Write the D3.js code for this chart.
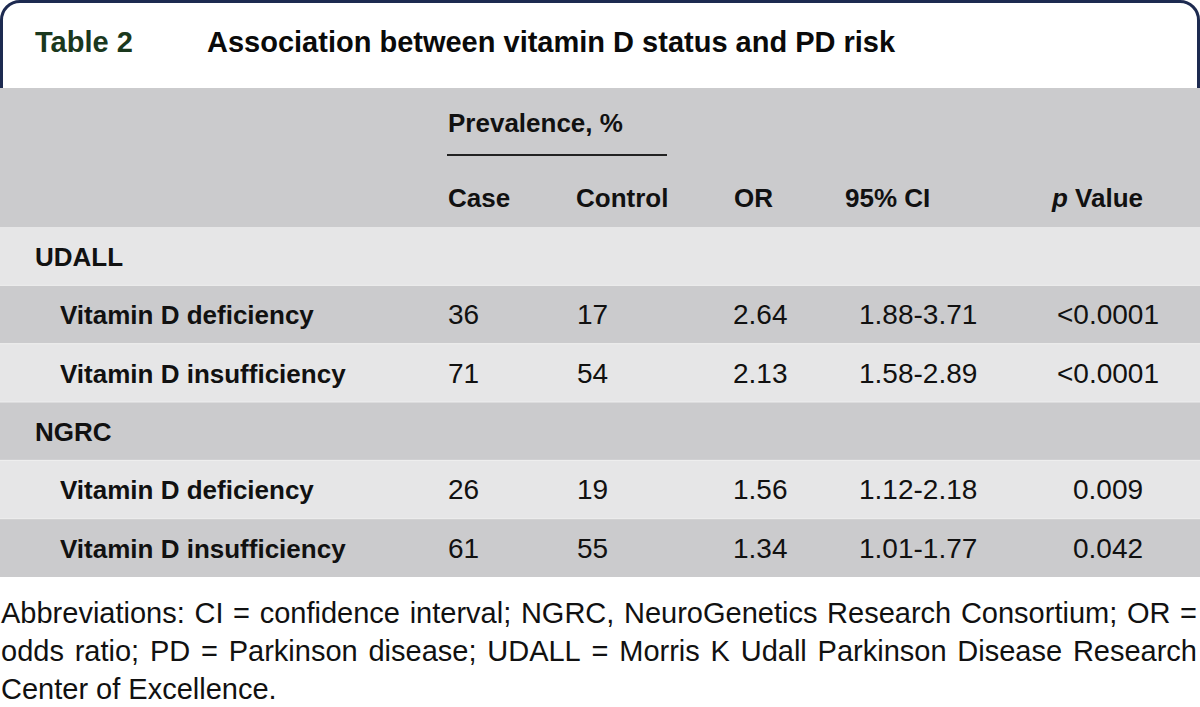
<!DOCTYPE html>
<html>
<head>
<meta charset="utf-8">
<script src="https://cdn.jsdelivr.net/npm/d3@7"></script>
<style>
  html, body { margin: 0; padding: 0; background: #ffffff; }
  svg { display: block; }
  text { font-family: "Liberation Sans", Arial, sans-serif; fill: #111111; }
</style>
</head>
<body>
<svg id="chart" width="1200" height="707"></svg>
<script>
// ---- data ----
const tableNumber = "Table 2";
const tableTitle = "Association between vitamin D status and PD risk";
const spanHeader = "Prevalence, %";
const columnHeaders = ["Case", "Control", "OR", "95% CI", "p Value"];
const sections = ["UDALL", "NGRC"];
const measures = ["Vitamin D deficiency", "Vitamin D insufficiency"];
const casePct = [36, 71, 26, 61];
const controlPct = [17, 54, 19, 55];
const oddsRatio = ["2.64", "2.13", "1.56", "1.34"];
const confInterval = ["1.88-3.71", "1.58-2.89", "1.12-2.18", "1.01-1.77"];
const pValues = ["<0.0001", "<0.0001", "0.009", "0.042"];
const footnoteLines = [
  "Abbreviations: CI = confidence interval; NGRC, NeuroGenetics Research Consortium; OR =",
  "odds ratio; PD = Parkinson disease; UDALL = Morris K Udall Parkinson Disease Research",
  "Center of Excellence."
];

// ---- build rows ----
const rows = [];
let k = 0;
sections.forEach(s => {
  rows.push({ type: "section", label: s });
  measures.forEach(m => {
    rows.push({ type: "measure", label: m, cells: [String(casePct[k]), String(controlPct[k]), oddsRatio[k], confInterval[k], pValues[k]] });
    k++;
  });
});

const svg = d3.select("#chart");
const W = 1200;

// ---- frame around title ----
svg.append("path")
  .attr("d", "M1.5,88 V20 A18.5,18.5 0 0 1 20,1.5 H1180 A18.5,18.5 0 0 1 1198.5,20 V88")
  .attr("fill", "none").attr("stroke", "#1d2a50").attr("stroke-width", 3);

svg.append("text").attr("x", 35).attr("y", 52)
  .style("font-size", "29px").style("font-weight", "bold").style("fill", "#1a381d")
  .text(tableNumber);
svg.append("text").attr("x", 207).attr("y", 52)
  .style("font-size", "29px").style("font-weight", "bold").style("fill", "#0a0a0a")
  .text(tableTitle);

// ---- header block ----
const headerTop = 88, headerBottom = 227, tableBottom = 577;
const dark = "#cbcbcd", light = "#e6e6e7";
svg.append("rect").attr("x", 0).attr("y", headerTop).attr("width", W)
  .attr("height", headerBottom - headerTop).attr("fill", dark);

// column positions
const colX = { label: 35, indent: 60 };
const headX = [448, 576, 734, 845, 1052];
const cellX = [448, 577, 733, 859, 1108];
const cellAnchor = ["start", "start", "start", "start", "middle"];

svg.append("text").attr("x", 448).attr("y", 132)
  .style("font-size", "26px").style("font-weight", "bold").text(spanHeader);
svg.append("line").attr("x1", 447).attr("x2", 667).attr("y1", 155).attr("y2", 155)
  .attr("stroke", "#222222").attr("stroke-width", 2);

columnHeaders.forEach((h, i) => {
  const t = svg.append("text").attr("x", headX[i]).attr("y", 207)
    .style("font-size", "26px").style("font-weight", "bold");
  if (h === "p Value") {
    t.append("tspan").style("font-style", "italic").text("p");
    t.append("tspan").text(" Value");
  } else {
    t.text(h);
  }
});

// ---- body rows ----
const y = d3.scaleBand().domain(d3.range(rows.length)).range([headerBottom, tableBottom]).padding(0);

const g = svg.selectAll("g.row").data(rows).join("g").attr("class", "row")
  .attr("transform", (d, i) => `translate(0,${y(i)})`);

g.append("rect").attr("x", 0).attr("y", 0).attr("width", W).attr("height", y.bandwidth())
  .attr("fill", (d, i) => i % 2 === 0 ? light : dark);

g.append("text")
  .attr("x", d => d.type === "section" ? colX.label : colX.indent)
  .attr("y", y.bandwidth() / 2 + 10)
  .style("font-size", "26px").style("font-weight", "bold")
  .text(d => d.label);

g.filter(d => d.type === "measure").each(function (d) {
  const row = d3.select(this);
  d.cells.forEach((c, i) => {
    row.append("text").attr("x", cellX[i]).attr("y", y.bandwidth() / 2 + 10)
      .attr("text-anchor", cellAnchor[i])
      .style("font-size", "28px").text(c);
  });
});

// thin separators between rows
svg.selectAll("line.sep").data(d3.range(1, rows.length)).join("line").attr("class", "sep")
  .attr("x1", 0).attr("x2", W).attr("y1", i => y(i)).attr("y2", i => y(i))
  .attr("stroke", "#eeeeee").attr("stroke-width", 1);

// ---- footnote (justified) ----
const fnSize = 29, fnLeft = 1, fnRight = 1197;
const fnBase = [623, 661, 699];
footnoteLines.forEach((line, li) => {
  const words = line.split(" ");
  const t = svg.append("text").attr("y", fnBase[li]).style("font-size", fnSize + "px");
  if (li === footnoteLines.length - 1) {
    t.attr("x", fnLeft).text(line);
    return;
  }
  const spans = words.map(w => t.append("tspan").text(w));
  const widths = spans.map(s => s.node().getComputedTextLength());
  const total = d3.sum(widths);
  const gap = (fnRight - fnLeft - total) / (words.length - 1);
  let x = fnLeft;
  spans.forEach((s, i) => { s.attr("x", x); x += widths[i] + gap; });
});
</script>
</body>
</html>
